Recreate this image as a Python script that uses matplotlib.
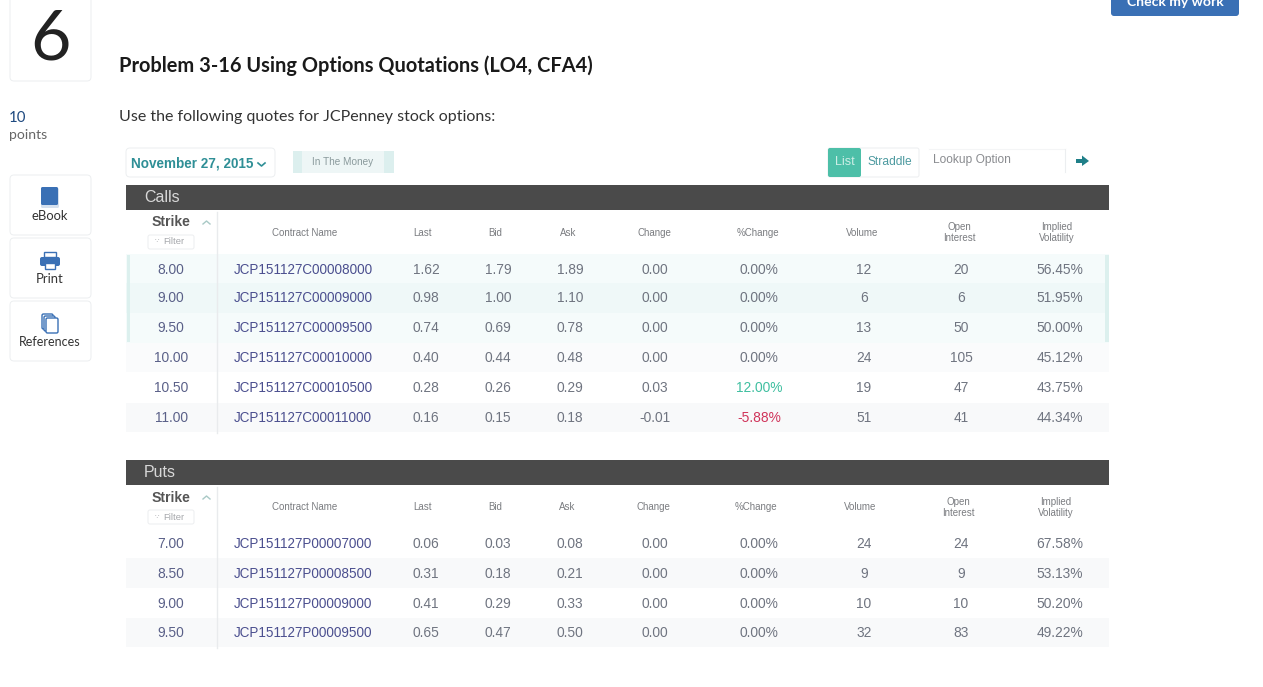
import matplotlib
matplotlib.use("Agg")
import matplotlib.pyplot as plt
from matplotlib.patches import Rectangle, FancyBboxPatch, Polygon

# ---------- data ----------
call_header_x = [305, 423, 495, 568, 654, 758, 862, 959, 1057]
put_header_x = [305, 423, 495, 567, 653, 756, 860, 958, 1056]
value_x = [171, 303, 426, 498, 570, 655, 759, 864, 961, 1060]
header_labels = ["Contract Name", "Last", "Bid", "Ask", "Change", "%Change", "Volume", "Open\nInterest", "Implied\nVolatility"]

call_strike = ["8.00", "9.00", "9.50", "10.00", "10.50", "11.00"]
call_name = ["JCP151127C00008000", "JCP151127C00009000", "JCP151127C00009500",
             "JCP151127C00010000", "JCP151127C00010500", "JCP151127C00011000"]
call_last = ["1.62", "0.98", "0.74", "0.40", "0.28", "0.16"]
call_bid = ["1.79", "1.00", "0.69", "0.44", "0.26", "0.15"]
call_ask = ["1.89", "1.10", "0.78", "0.48", "0.29", "0.18"]
call_change = ["0.00", "0.00", "0.00", "0.00", "0.03", "-0.01"]
call_pct = ["0.00%", "0.00%", "0.00%", "0.00%", "12.00%", "-5.88%"]
call_vol = ["12", "6", "13", "24", "19", "51"]
call_oi = ["20", "6", "50", "105", "47", "41"]
call_iv = ["56.45%", "51.95%", "50.00%", "45.12%", "43.75%", "44.34%"]

put_strike = ["7.00", "8.50", "9.00", "9.50"]
put_name = ["JCP151127P00007000", "JCP151127P00008500", "JCP151127P00009000", "JCP151127P00009500"]
put_last = ["0.06", "0.31", "0.41", "0.65"]
put_bid = ["0.03", "0.18", "0.29", "0.47"]
put_ask = ["0.08", "0.21", "0.33", "0.50"]
put_change = ["0.00", "0.00", "0.00", "0.00"]
put_pct = ["0.00%", "0.00%", "0.00%", "0.00%"]
put_vol = ["24", "9", "10", "32"]
put_oi = ["24", "9", "10", "83"]
put_iv = ["67.58%", "53.13%", "50.20%", "49.22%"]

call_rows = [call_strike, call_name, call_last, call_bid, call_ask, call_change, call_pct, call_vol, call_oi, call_iv]
put_rows = [put_strike, put_name, put_last, put_bid, put_ask, put_change, put_pct, put_vol, put_oi, put_iv]
call_y = [269, 298, 328, 358, 387, 417.5]
put_y = [543.5, 573, 603, 632.5]

# ---------- canvas ----------
fig = plt.figure(figsize=(12.63, 6.87), dpi=100)
ax = fig.add_axes([0, 0, 1, 1])
ax.set_xlim(0, 1263)
ax.set_ylim(687, 0)
ax.axis("off")

UI = "Lato"
TB = "Liberation Sans"
BLUE = "#3a70b5"
TEAL = "#2f8f96"
NAME = "#4b4f8f"
NUM = "#6f7480"
HEAD = "#7a7c80"
EDGE = "#eceef0"


def px(s):
    return s * 0.72


def T(x, y, s, size, color="#222222", family=TB, weight="normal", ha="center", va="center", z=5, **kw):
    ax.text(x, y, s, fontsize=px(size), color=color, family=family, weight=weight, ha=ha, va=va, zorder=z, **kw)


def R(x, y, w, h, fc, ec="none", lw=0, z=1):
    ax.add_patch(Rectangle((x, y), w, h, fc=fc, ec=ec, lw=lw, zorder=z))


def RB(x, y, w, h, fc="white", ec=EDGE, lw=0.7, r=4, z=1):
    ax.add_patch(FancyBboxPatch((x + r, y + r), w - 2 * r, h - 2 * r, boxstyle=f"round,pad={r},rounding_size={r}",
                                fc=fc, ec=ec, lw=lw, zorder=z))


# ---------- page chrome ----------
RB(10, -12, 81, 93)
T(50, 60, "6", 70, "#222222", UI, va="baseline")
T(9, 117.5, "10", 15, "#1f4a80", UI, ha="left")
T(9, 135, "points", 14, "#666666", UI, ha="left")

RB(10, 175, 81, 60)
RB(10, 238, 81, 60)
RB(10, 301, 81, 60)
T(50, 216, "eBook", 13, "#333333", UI)
T(50, 279, "Print", 13, "#333333", UI)
T(50, 342, "References", 12.5, "#333333", UI)

# eBook icon
RB(41, 188, 18, 20, fc="#d5e0ee", ec="none", r=1.5, z=2)
RB(41, 187, 17, 18, fc=BLUE, ec="none", r=1.5, z=3)
# Print icon
R(44, 252, 12, 5, "white", ec=BLUE, lw=1, z=2)
RB(40, 257, 20, 9, fc=BLUE, ec="none", r=2, z=3)
R(45, 263, 10, 5.5, "white", ec=BLUE, lw=1, z=4)
# References icon
RB(42, 314, 11, 15, fc="white", ec=BLUE, lw=1, r=1.5, z=2)
RB(44, 316, 11, 15, fc="white", ec=BLUE, lw=1, r=1.5, z=3)
RB(46, 318, 12, 15, fc="white", ec=BLUE, lw=1, r=1.5, z=4)

RB(1111, -10, 128, 26, fc=BLUE, ec="none", r=3)
T(1175, 1.5, "Check my work", 14, "white", UI, weight="bold")

T(119, 65.5, "Problem 3-16 Using Options Quotations (LO4, CFA4)", 20, "#1a1a1a", UI, weight="bold", ha="left")
T(119, 117, "Use the following quotes for JCPenney stock options:", 16, "#333333", UI, ha="left")

# ---------- toolbar ----------
RB(126, 148, 149, 29)
T(131, 163.5, "November 27, 2015", 13.5, TEAL, TB, weight="bold", ha="left")
ax.plot([258, 261.5, 265], [163, 166, 163], color=TEAL, lw=1.2)
R(293, 151, 101, 22, "#eef6f6")
R(293, 151, 9, 22, "#dcefee", z=2)
R(384, 151, 10, 22, "#dcefee", z=2)
T(343, 162, "In The Money", 10, "#8a9a9c")
RB(828, 148, 91, 29, r=2)
RB(828, 148, 33, 29, fc="#4dbfa8", ec="none", r=2, z=2)
T(844.5, 162, "List", 12.5, "#cdeee6")
T(890, 162, "Straddle", 12, "#4d9aa0")
T(933, 160.5, "Lookup Option", 12, "#8a8c90", ha="left")
ax.plot([929, 1065], [148.5, 148.5], color="#f4f5f6", lw=0.8)
ax.plot([1065, 1065], [149, 172], color=EDGE, lw=0.8)
ax.add_patch(Polygon([(1076, 159), (1082, 159), (1082, 155.5), (1089, 161), (1082, 166), (1082, 163), (1076, 163)],
                     fc="#1f7f88", ec="none"))


# ---------- tables ----------
def table(title, top, rows, ys, header_x, calls):
    R(126, top, 983, 25, "#4a4a4a")
    T(144, top + 12.5, title, 16, "#d8d8d8", ha="left")
    hy = top + 47
    T(171.5, hy - 9.5, "Strike", 14, "#555555", weight="bold")
    ax.plot([203, 206.5, 210], [hy - 8, hy - 11, hy - 8], color="#a9c9c6", lw=1)
    RB(148, hy + 3, 46, 14, r=2)
    T(157, hy + 9.5, "\u2235", 7, "#a6a8ac", family="DejaVu Sans")
    T(174, hy + 10, "Filter", 9.5, "#a6a8ac")
    for x, lab in zip(header_x, header_labels):
        T(x, hy + 0.5, lab, 9.8, HEAD, linespacing=1.05)
    # row stripes
    for i, y in enumerate(ys):
        if calls and i < 3:
            fc = "#f5fbfb" if i != 1 else "#eff8f8"
        elif calls and i == 3:
            fc = "#fafbfc"
        else:
            fc = "#f8f9fa" if i % 2 == 1 else "white"
        R(126, y - 14.8, 983, 29.6, fc, z=0.5)
    ax.plot([216.5, 216.5], [top + 27, ys[-1] + 15], color="#e9ebed", lw=1, zorder=2)
    if calls:
        R(127, ys[0] - 14, 3, ys[2] - ys[0] + 28, "#dcf0ee", z=2)
        R(1105, ys[0] - 14, 4, ys[2] - ys[0] + 28, "#dcf0ee", z=2)
    for c, col in enumerate(rows):
        for i, s in enumerate(col):
            color = NUM
            if c == 0:
                color = "#5a6088"
            elif c == 1:
                color = NAME
            elif c == 6 and s.startswith("12"):
                color = "#3fbfa0"
            elif c == 6 and s.startswith("-"):
                color = "#d0345a"
            size = 13.5 if c == 1 else 13.8
            T(value_x[c], ys[i] + 0.5, s, size, color)


table("Calls", 185, call_rows, call_y, call_header_x, True)
table("Puts", 460, put_rows, put_y, put_header_x, False)

fig.savefig("out.png", dpi=100, facecolor="white")
